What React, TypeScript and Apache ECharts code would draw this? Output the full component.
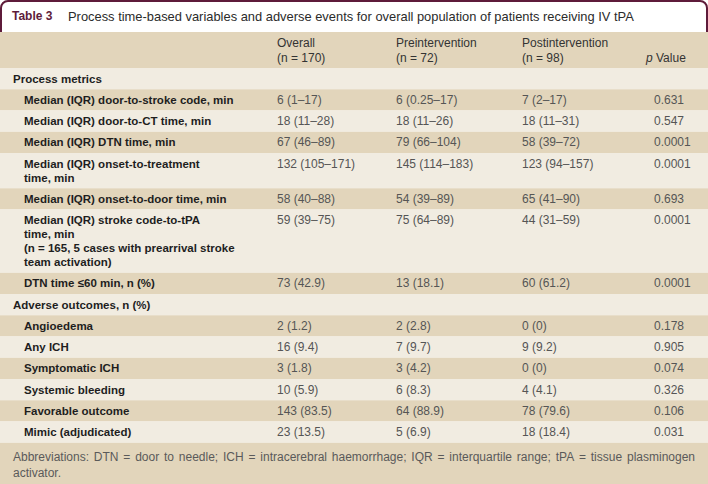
import React, { useEffect, useRef } from "react";
import * as echarts from "echarts";

const tableNumber = "Table 3";
const tableTitle =
  "Process time-based variables and adverse events for overall population of patients receiving IV tPA";
const columnHeads = ["Overall", "Preintervention", "Postintervention"];
const columnNs = ["(n = 170)", "(n = 72)", "(n = 98)"];
const pHeadItalic = "p";
const pHeadRest = " Value";

const rowLabels = [
  "Process metrics",
  "Median (IQR) door-to-stroke code, min",
  "Median (IQR) door-to-CT time, min",
  "Median (IQR) DTN time, min",
  "Median (IQR) onset-to-treatment\ntime, min",
  "Median (IQR) onset-to-door time, min",
  "Median (IQR) stroke code-to-tPA\ntime, min\n(n = 165, 5 cases with prearrival stroke\nteam activation)",
  "DTN time ≤60 min, n (%)",
  "Adverse outcomes, n (%)",
  "Angioedema",
  "Any ICH",
  "Symptomatic ICH",
  "Systemic bleeding",
  "Favorable outcome",
  "Mimic (adjudicated)",
];
const rowIsSection = [true, false, false, false, false, false, false, false, true, false, false, false, false, false, false];
const overallValues = ["", "6 (1–17)", "18 (11–28)", "67 (46–89)", "132 (105–171)", "58 (40–88)", "59 (39–75)", "73 (42.9)", "", "2 (1.2)", "16 (9.4)", "3 (1.8)", "10 (5.9)", "143 (83.5)", "23 (13.5)"];
const preValues = ["", "6 (0.25–17)", "18 (11–26)", "79 (66–104)", "145 (114–183)", "54 (39–89)", "75 (64–89)", "13 (18.1)", "", "2 (2.8)", "7 (9.7)", "3 (4.2)", "6 (8.3)", "64 (88.9)", "5 (6.9)"];
const postValues = ["", "7 (2–17)", "18 (11–31)", "58 (39–72)", "123 (94–157)", "65 (41–90)", "44 (31–59)", "60 (61.2)", "", "0 (0)", "9 (9.2)", "0 (0)", "4 (4.1)", "78 (79.6)", "18 (18.4)"];
const pValues = ["", "0.631", "0.547", "0.0001", "0.0001", "0.693", "0.0001", "0.0001", "", "0.178", "0.905", "0.074", "0.326", "0.106", "0.031"];
const footnote =
  "Abbreviations: DTN = door to needle; ICH = intracerebral haemorrhage; IQR = interquartile range; tPA = tissue plasminogen activator.";

const FONT = '"Liberation Sans", Arial, sans-serif';
const DARK = "#e2d5bb";
const LIGHT = "#f1ece1";
const MAROON = "#5e1b3a";

function measure(text: string, font: string): number {
  const c = document.createElement("canvas").getContext("2d");
  if (!c) return text.length * 6;
  c.font = font;
  return c.measureText(text).width;
}

export default function App() {
  const ref = useRef<HTMLDivElement>(null);
  useEffect(() => {
    if (!ref.current) return;
    const chart = echarts.init(ref.current, undefined, { renderer: "svg" });
    const W = 708;
    const els: any[] = [];

    // title box
    els.push({
      type: "rect",
      shape: { x: 1, y: 1, width: W - 2, height: 44, r: [7, 7, 0, 0] },
      style: { fill: "#fff", stroke: MAROON, lineWidth: 2 },
    });
    els.push({
      type: "text",
      style: { x: 12, y: 16, text: tableNumber, fill: MAROON, fontFamily: FONT, fontSize: 12, fontWeight: "bold", textVerticalAlign: "middle" },
    });
    els.push({
      type: "text",
      style: { x: 68, y: 16, text: tableTitle, fill: "#2b2b2b", fontFamily: FONT, fontSize: 12.9, textVerticalAlign: "middle" },
    });

    // header
    const headTop = 32;
    const headBottom = 68;
    els.push({ type: "rect", shape: { x: 0, y: headTop, width: W, height: headBottom - headTop }, style: { fill: DARK } });
    const colX = [277, 396, 522];
    const pX = 646;
    columnHeads.forEach((h, i) => {
      els.push({
        type: "text",
        style: { x: colX[i], y: 42.5, text: h, fill: "#333", fontFamily: FONT, fontSize: 12, textVerticalAlign: "middle" },
      });
      els.push({
        type: "text",
        style: { x: colX[i], y: 57.5, text: columnNs[i], fill: "#333", fontFamily: FONT, fontSize: 12, textVerticalAlign: "middle" },
      });
    });
    els.push({
      type: "text",
      style: {
        x: pX, y: 57.5, text: "{i|" + pHeadItalic + "}" + pHeadRest, fill: "#333", fontFamily: FONT, fontSize: 12, textVerticalAlign: "middle",
        rich: { i: { fontStyle: "italic", fontFamily: FONT, fontSize: 12, fill: "#333" } },
      },
    });

    // body rows
    const base = 21.25;
    const lineH = 14;
    let y = headBottom;
    const valX = [277, 396, 522, 654];
    rowLabels.forEach((label, i) => {
      const lines = label.split("\n").length;
      const h = base + lineH * (lines - 1);
      els.push({ type: "rect", shape: { x: 0, y, width: W, height: h }, style: { fill: i % 2 === 0 ? LIGHT : DARK } });
      const ty = y + (base - lineH) / 2;
      els.push({
        type: "text",
        style: {
          x: rowIsSection[i] ? 13 : 24, y: ty, text: label, fill: "#1e1e1e", fontFamily: FONT, fontSize: 11.5, fontWeight: "bold",
          lineHeight: lineH, textVerticalAlign: "top",
        },
      });
      [overallValues[i], preValues[i], postValues[i], pValues[i]].forEach((v, j) => {
        if (!v) return;
        els.push({
          type: "text",
          style: { x: valX[j], y: ty, text: v, fill: "#555", fontFamily: FONT, fontSize: 12, lineHeight: lineH, textVerticalAlign: "top" },
        });
      });
      y += h;
    });

    // footer
    const footTop = y;
    els.push({ type: "rect", shape: { x: 0, y: footTop, width: W, height: 484 - footTop + 2 }, style: { fill: DARK } });
    const fFont = "12px " + FONT;
    const words = footnote.split(" ");
    const left = 13;
    const right = 695;
    const spaceW = measure(" ", fFont);
    const line1: string[] = [];
    let acc = 0;
    let k = 0;
    for (; k < words.length; k++) {
      const w = measure(words[k], fFont);
      const next = acc + (line1.length ? spaceW : 0) + w;
      if (next > right - left) break;
      line1.push(words[k]);
      acc = next;
    }
    const rest = words.slice(k).join(" ");
    const wordW = line1.map((w) => measure(w, fFont));
    const totalW = wordW.reduce((a, b) => a + b, 0);
    const gap = line1.length > 1 ? (right - left - totalW) / (line1.length - 1) : 0;
    let fx = left;
    line1.forEach((w, i) => {
      els.push({
        type: "text",
        style: { x: fx, y: footTop + 14, text: w, fill: "#5a5a5a", fontFamily: FONT, fontSize: 12, textVerticalAlign: "middle" },
      });
      fx += wordW[i] + gap;
    });
    els.push({
      type: "text",
      style: { x: left, y: footTop + 30, text: rest, fill: "#5a5a5a", fontFamily: FONT, fontSize: 12, textVerticalAlign: "middle" },
    });

    chart.setOption({ animation: false, graphic: { elements: els } });
    return () => chart.dispose();
  }, []);
  return (
    <div
      ref={ref}
      style={{ position: "fixed", left: 0, top: 0, width: 708, height: 484, background: "#fff" }}
    />
  );
}
